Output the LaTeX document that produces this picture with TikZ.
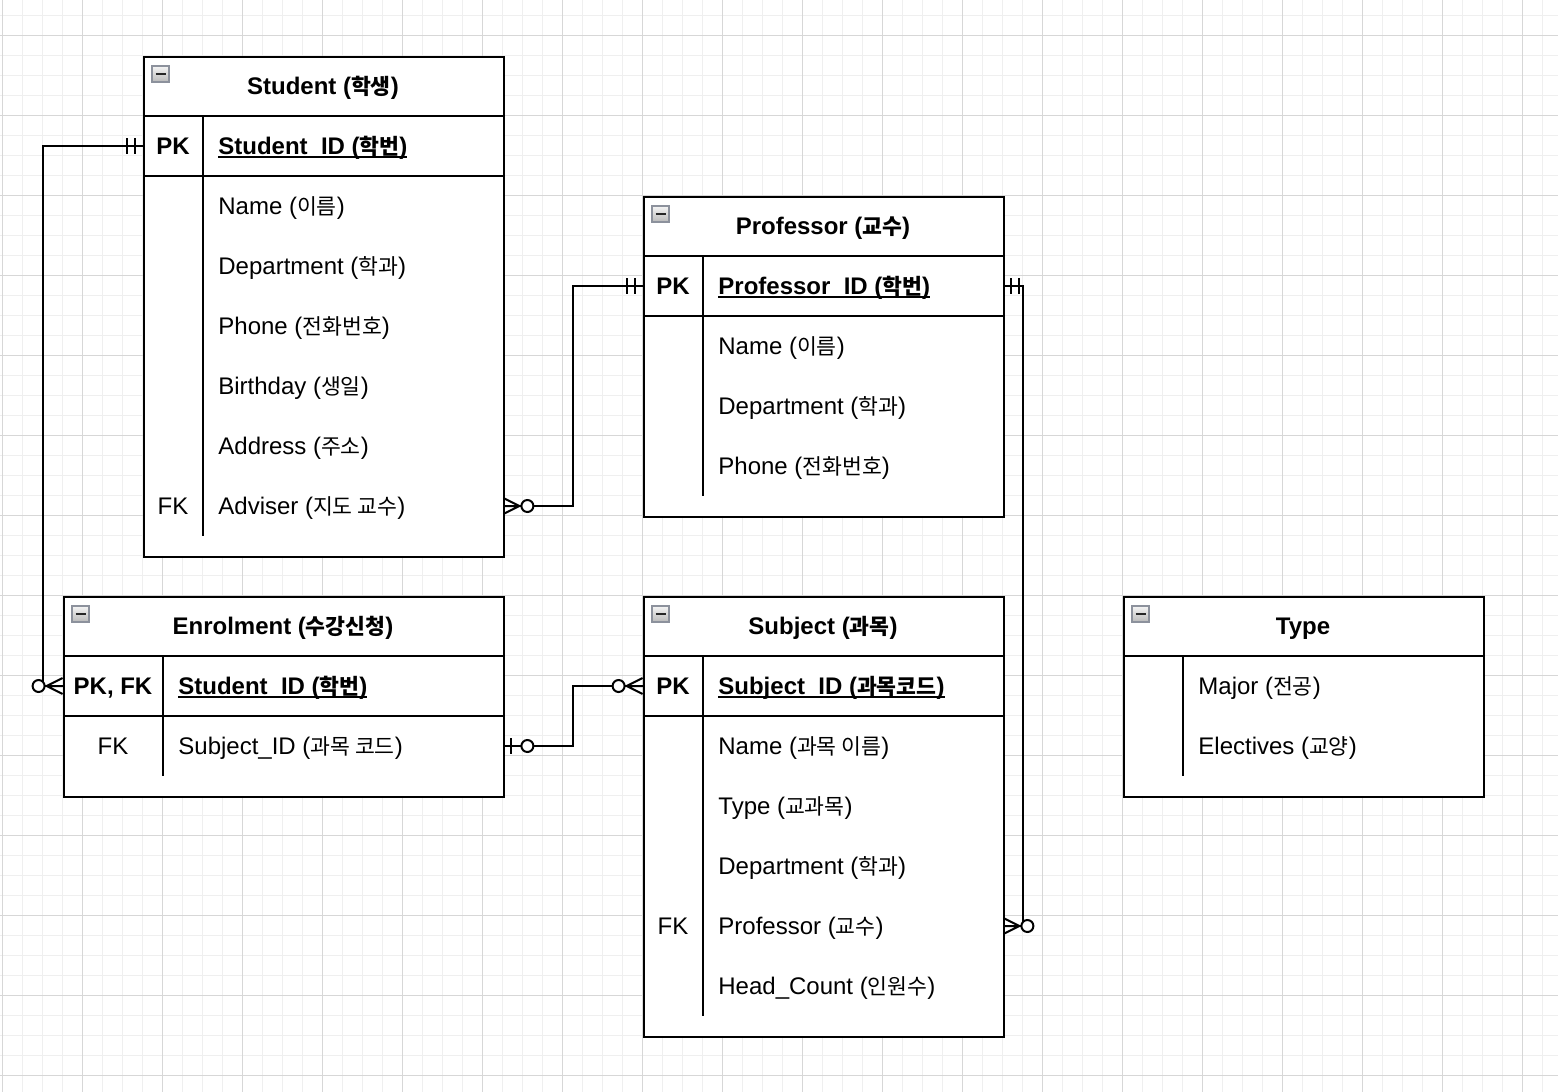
\documentclass[tikz,border=0pt]{standalone}
\usepackage{fontspec}
\setmainfont{Liberation Sans}
\newfontfamily\krf{Noto Sans CJK KR}[Scale=0.9]
\newcommand\kr[1]{{\krf #1}}
\newcommand\ulin[1]{\setbox0\hbox{#1}\rlap{\rule[-1.7pt]{\wd0}{0.9pt}}\box0}
\definecolor{gridminor}{HTML}{EFEFEF}
\definecolor{gridmajor}{HTML}{D7D7D7}
\definecolor{iconborder}{HTML}{8C919C}
\begin{document}
\begin{tikzpicture}[x=0.5pt,y=-0.5pt,
  ent/.style={draw=black,line width=1pt,fill=white,anchor=north west,inner sep=0pt},
  rowbox/.style={inner sep=0pt,minimum height=30pt},
  ttltxt/.style={font=\fontsize{12}{14}\selectfont\bfseries,anchor=base,inner sep=0pt},
  fldtxt/.style={font=\fontsize{12}{14}\selectfont,anchor=base west,inner sep=0pt},
  pkfld/.style={font=\fontsize{12}{14}\selectfont\bfseries,anchor=base west,inner sep=0pt},
  pktxt/.style={font=\fontsize{12}{14}\selectfont\bfseries,anchor=base,inner sep=0pt},
  fktxt/.style={font=\fontsize{12}{14}\selectfont,anchor=base,inner sep=0pt},
  divline/.style={line width=1pt},
  conn/.style={line width=1pt},
  pics/mandone/.style={code={\draw[line width=1pt] (-8,-8)--(-8,8) (-16,-8)--(-16,8);}},
  pics/zeroone/.style={code={\draw[line width=1pt] (-8,-8)--(-8,8);
      \draw[line width=1pt,fill=white] (-24,0) circle[radius=3pt];}},
  pics/zeromany/.style={code={\draw[line width=1pt] (0,-8)--(-16,0)--(0,8) (0,0)--(-16,0);
      \draw[line width=1pt,fill=white] (-24,0) circle[radius=3pt];}},
  pics/colicon/.style={code={\draw[draw=iconborder,line width=0.6pt,top color=white!92!gray,bottom color=gray!55] (9,10) rectangle (26,26);
      \draw[line width=1.1pt,black!85] (12.5,18) -- (22.5,18);}}
]
% background and grid
\fill[white] (0,0) rectangle (1558,1092);
\useasboundingbox (0,0) rectangle (1558,1092);
\foreach \x in {2,22,...,1558} \draw[gridminor,line width=0.5pt] (\x,0) -- (\x,1092);
\foreach \y in {15,35,...,1092} \draw[gridminor,line width=0.5pt] (0,\y) -- (1558,\y);
\foreach \x in {2,82,...,1558} \draw[gridmajor,line width=0.5pt] (\x,0) -- (\x,1092);
\foreach \y in {35,115,...,1092} \draw[gridmajor,line width=0.5pt] (0,\y) -- (1558,\y);

% ---------- Student ----------
\node[ent,minimum width=180pt,minimum height=250pt] (student) at (143,56) {};
\draw[divline] (143,116) -- (503,116) (143,176) -- (503,176) (203,116) -- (203,536);
\pic at (143,56) {colicon};
\node[ttltxt] (st-t) at (323,94.5) {Student (\kr{학생})};
\node[rowbox,minimum width=180pt] (st-pk) at (323,146) {};
\node[pktxt] (st-pkk) at (173,154.5) {PK};
\node[pkfld] (st-f0) at (218,154.5) {\ulin{Student\_ID (\kr{학번})}};
\node[fldtxt] (st-f1) at (218,214.5) {Name (\kr{이름})};
\node[fldtxt] (st-f2) at (218,274.5) {Department (\kr{학과})};
\node[fldtxt] (st-f3) at (218,334.5) {Phone (\kr{전화번호})};
\node[fldtxt] (st-f4) at (218,394.5) {Birthday (\kr{생일})};
\node[fldtxt] (st-f5) at (218,454.5) {Address (\kr{주소})};
\node[fktxt] (st-fkk) at (173,514.5) {FK};
\node[fldtxt] (st-f6) at (218,514.5) {Adviser (\kr{지도 교수})};
\node[rowbox,minimum width=180pt] (st-adv) at (323,506) {};

% ---------- Professor ----------
\node[ent,minimum width=180pt,minimum height=160pt] (prof) at (643,196) {};
\draw[divline] (643,256) -- (1003,256) (643,316) -- (1003,316) (703,256) -- (703,496);
\pic at (643,196) {colicon};
\node[ttltxt] (pr-t) at (823,234.5) {Professor (\kr{교수})};
\node[rowbox,minimum width=180pt] (pr-pk) at (823,286) {};
\node[pktxt] (pr-pkk) at (673,294.5) {PK};
\node[pkfld] (pr-f0) at (718,294.5) {\ulin{Professor\_ID (\kr{학번})}};
\node[fldtxt] (pr-f1) at (718,354.5) {Name (\kr{이름})};
\node[fldtxt] (pr-f2) at (718,414.5) {Department (\kr{학과})};
\node[fldtxt] (pr-f3) at (718,474.5) {Phone (\kr{전화번호})};

% ---------- Enrolment ----------
\node[ent,minimum width=220pt,minimum height=100pt] (enrol) at (63,596) {};
\draw[divline] (63,656) -- (503,656) (63,716) -- (503,716) (163,656) -- (163,776);
\pic at (63,596) {colicon};
\node[ttltxt] (en-t) at (283,634.5) {Enrolment (\kr{수강신청})};
\node[rowbox,minimum width=220pt] (en-pk) at (283,686) {};
\node[pktxt] (en-pkk) at (113,694.5) {PK, FK};
\node[pkfld] (en-f0) at (178,694.5) {\ulin{Student\_ID (\kr{학번})}};
\node[rowbox,minimum width=220pt] (en-sub) at (283,746) {};
\node[fktxt] (en-fkk) at (113,754.5) {FK};
\node[fldtxt] (en-f1) at (178,754.5) {Subject\_ID (\kr{과목 코드})};

% ---------- Subject ----------
\node[ent,minimum width=180pt,minimum height=220pt] (subj) at (643,596) {};
\draw[divline] (643,656) -- (1003,656) (643,716) -- (1003,716) (703,656) -- (703,1016);
\pic at (643,596) {colicon};
\node[ttltxt] (su-t) at (823,634.5) {Subject (\kr{과목})};
\node[rowbox,minimum width=180pt] (su-pk) at (823,686) {};
\node[pktxt] (su-pkk) at (673,694.5) {PK};
\node[pkfld] (su-f0) at (718,694.5) {\ulin{Subject\_ID (\kr{과목코드})}};
\node[fldtxt] (su-f1) at (718,754.5) {Name (\kr{과목 이름})};
\node[fldtxt] (su-f2) at (718,814.5) {Type (\kr{교과목})};
\node[fldtxt] (su-f3) at (718,874.5) {Department (\kr{학과})};
\node[fktxt] (su-fkk) at (673,934.5) {FK};
\node[fldtxt] (su-f4) at (718,934.5) {Professor (\kr{교수})};
\node[rowbox,minimum width=180pt] (su-prof) at (823,926) {};
\node[fldtxt] (su-f5) at (718,994.5) {Head\_Count (\kr{인원수})};

% ---------- Type ----------
\node[ent,minimum width=180pt,minimum height=100pt] (type) at (1123,596) {};
\draw[divline] (1123,656) -- (1483,656) (1183,656) -- (1183,776);
\pic at (1123,596) {colicon};
\node[ttltxt] (ty-t) at (1303,634.5) {Type};
\node[fldtxt] (ty-f0) at (1198,694.5) {Major (\kr{전공})};
\node[fldtxt] (ty-f1) at (1198,754.5) {Electives (\kr{교양})};

% ---------- connectors ----------
\draw[conn] (st-pk.west) -| ([xshift=-10pt]en-pk.west) -- (en-pk.west);
\draw[conn] (st-adv.east) -- ++(70,0) |- (pr-pk.west);
\draw[conn] (en-sub.east) -- ++(70,0) |- (su-pk.west);
\draw[conn] (pr-pk.east) -- ++(20,0) |- (su-prof.east);

% ---------- markers ----------
\pic at (st-pk.west) {mandone};
\pic at (en-pk.west) {zeromany};
\pic[xscale=-1] at (st-adv.east) {zeromany};
\pic at (pr-pk.west) {mandone};
\pic[xscale=-1] at (en-sub.east) {zeroone};
\pic at (su-pk.west) {zeromany};
\pic[xscale=-1] at (pr-pk.east) {mandone};
\pic[xscale=-1] at (su-prof.east) {zeromany};
\end{tikzpicture}
\end{document}
